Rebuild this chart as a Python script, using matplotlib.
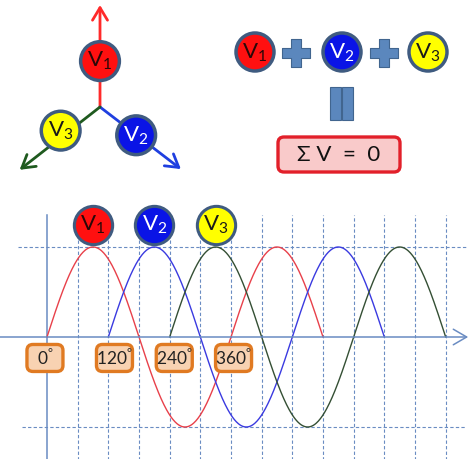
import numpy as np
import matplotlib
matplotlib.use("Agg")
import matplotlib.pyplot as plt
from matplotlib.patches import Circle, FancyBboxPatch, Rectangle

plt.rcParams["font.family"] = ["Lato", "DejaVu Sans"]
plt.rcParams["mathtext.fontset"] = "custom"
plt.rcParams["mathtext.rm"] = "Lato"

# --- data ---
phases = ["V1", "V2", "V3"]
phase_shift = [0, 120, 240]          # degrees
wave_span = 540                      # each wave drawn over 1.5 periods
phasor_angle = [90, -37.5, 218]      # arrow directions in the vector diagram
phasor_label_angle = [90, -38, 211]
fill_colors = ["#ff1010", "#0a14e6", "#ffff00"]
text_colors = ["#2a0808", "#ffffff", "#1a1a1a"]
arrow_colors = ["#ff2a2a", "#1f3fe0", "#1f5a1f"]
wave_colors = ["#e8404a", "#3a3ae0", "#344f34"]
tick_degrees = [0, 120, 240, 360]
grid_degrees = list(range(60, 781, 60))

EDGE = "#3f5b80"
GRID = "#6a8cc2"
STEEL = "#5b87bd"
VSIZE = 16

fig = plt.figure(figsize=(4.75, 4.59), dpi=100)


def vlabel(name):
    return r"$\mathrm{V}_{%s}$" % name[1:]


# --- top layer in pixel units (layout only) ---
ax_top = fig.add_axes([0, 0, 1, 1])
ax_top.set_xlim(0, 475)
ax_top.set_ylim(459, 0)
ax_top.axis("off")

# equation V1 + V2 + V3 = 0
eq_x = [255, 342, 428]
for i, name in enumerate(phases):
    ax_top.add_patch(Circle((eq_x[i], 52), 19, fc=fill_colors[i], ec=EDGE, lw=2.5))
    ax_top.text(eq_x[i], 53, vlabel(name), color=text_colors[i], fontsize=VSIZE,
                ha="center", va="center")
ax_top.scatter([296, 384], [53, 53], marker="P", s=420, c=STEEL,
               edgecolors="#41658f", linewidths=0.8)
for bx in [330, 342]:
    ax_top.add_patch(Rectangle((bx, 87), 11, 33, fc=STEEL, ec="#41658f", lw=0.8))
ax_top.add_patch(FancyBboxPatch((278, 137), 122, 35,
                                boxstyle="round,pad=0,rounding_size=6",
                                fc="#f9caca", ec="#e2202a", lw=2.4))
ax_top.text(339, 155, "\u03a3 V  =  0", fontsize=16, ha="center", va="center",
            color="#111111")

# --- phasor diagram ---
ax_ph = fig.add_axes([0, 269 / 459, 220 / 475, 190 / 459])
ax_ph.set_xlim(-100 / 102, 120 / 102)
ax_ph.set_ylim(-83 / 102, 107 / 102)
ax_ph.axis("off")
ax_ph.patch.set_visible(False)
for i, name in enumerate(phases):
    a = np.deg2rad(phasor_angle[i])
    ax_ph.annotate("", xy=(np.cos(a), np.sin(a)), xytext=(0, 0),
                   arrowprops=dict(arrowstyle="->,head_length=0.5,head_width=0.3",
                                   color=arrow_colors[i], lw=2, mutation_scale=18,
                                   shrinkA=0, shrinkB=0))
for i, name in enumerate(phases):
    a = np.deg2rad(phasor_label_angle[i])
    cx, cy = 0.45 * np.cos(a), 0.45 * np.sin(a)
    ax_ph.add_patch(Circle((cx, cy), 0.19, fc=fill_colors[i], ec=EDGE, lw=2.5, zorder=3))
    ax_ph.text(cx, cy, vlabel(name), color=text_colors[i], fontsize=VSIZE,
               ha="center", va="center", zorder=4)

# --- waveforms ---
ax = fig.add_axes([0, 0, 1, 269 / 459])
ax.patch.set_visible(False)
ax.set_xlim(-47 * 90 / 46, 428 * 90 / 46)
ax.set_ylim(-122 / 90, 147 / 90)
ax.axis("off")

top = 122 / 90
for g in grid_degrees:
    ax.plot([g, g], [-1.4, top], color=GRID, lw=0.8, ls=(0, (3, 2)))
ax.plot([-57, 824], [1, 1], color=GRID, lw=0.8, ls=(0, (3, 2)))
ax.plot([-49, 818], [-1, -1], color=GRID, lw=0.8, ls=(0, (3, 2)))
ax.plot([0, 0], [-1.4, top], color=GRID, lw=1.1)
ax.annotate("", xy=(824, 0), xytext=(-92, 0),
            arrowprops=dict(arrowstyle="->,head_length=0.6,head_width=0.35",
                            color=GRID, lw=1.1, mutation_scale=16,
                            shrinkA=0, shrinkB=0))

for i, name in enumerate(phases):
    x = np.linspace(phase_shift[i], phase_shift[i] + wave_span, 400)
    ax.plot(x, np.sin(np.deg2rad(x - phase_shift[i])), color=wave_colors[i], lw=1.0)
    ax.scatter([phase_shift[i] + 90], [1.245], s=760, c=fill_colors[i],
               edgecolors=EDGE, linewidths=2.2, zorder=5)
    ax.text(phase_shift[i] + 90, 1.245, vlabel(name), color=text_colors[i],
            fontsize=VSIZE, ha="center", va="center", zorder=6)

xpx = 90 / 46   # degrees per pixel
ypx = 1 / 90    # amplitude per pixel
label_x = [-4, 132, 249, 365]
for d, lx in zip(tick_degrees, label_x):
    w, h = 36 * xpx, 27 * ypx
    ax.add_patch(FancyBboxPatch((lx - w / 2, -0.233 - h / 2), w, h,
                                boxstyle="round,pad=0,rounding_size=%f" % (6 * xpx),
                                mutation_aspect=ypx / xpx,
                                fc="#f8d2b2", ec="#e07a22", lw=2.4, zorder=5))
    ax.text(lx, -0.233, "%d$^{\\mathrm{\u00b0}}$" % d, fontsize=12.5, ha="center",
            va="center", color="#222222", zorder=6)

fig.savefig("out.png", dpi=100)
